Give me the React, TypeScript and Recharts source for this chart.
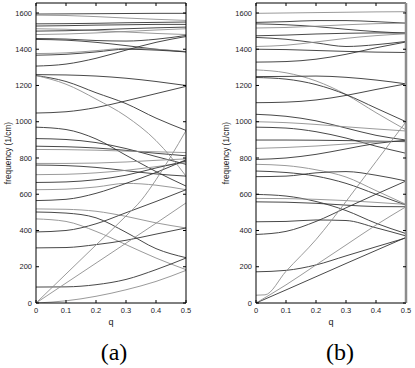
import React from 'react';
import { LineChart, Line, XAxis, YAxis } from 'recharts';

// ---------- shared axis values ----------
const Q_GRID = [0, 0.1, 0.2, 0.3, 0.4, 0.5];
const X_TICKS = [0, 0.1, 0.2, 0.3, 0.4, 0.5];
const Y_TICKS = [0, 200, 400, 600, 800, 1000, 1200, 1400, 1600];
const Y_MAX = 1655;
const Y_LABEL = 'frequency (1/cm)';
const X_LABEL = 'q';
const PANEL_LABELS = ['(a)', '(b)'];

// ---------- panel (a): bands sampled on Q_GRID ----------
const bandsA: number[][] = [
  [1594, 1595, 1596, 1597, 1598, 1598],
  [1588, 1586, 1580, 1572, 1565, 1559],
  [1540, 1541, 1543, 1546, 1548, 1550],
  [1528, 1530, 1533, 1535, 1537, 1537],
  [1513, 1510, 1503, 1495, 1487, 1481],
  [1500, 1502, 1507, 1513, 1518, 1522],
  [1481, 1484, 1490, 1498, 1506, 1513],
  [1459, 1456, 1448, 1445, 1455, 1476],
  [1454, 1450, 1438, 1420, 1400, 1386],
  [1376, 1380, 1392, 1405, 1400, 1387],
  [1367, 1372, 1385, 1400, 1395, 1385],
  [1307, 1318, 1350, 1395, 1438, 1470],
  [1260, 1258, 1252, 1240, 1222, 1200],
  [1048, 1055, 1078, 1115, 1155, 1195],
  [1255, 1222, 1160, 1100, 1020, 952],
  [970, 957, 905, 815, 725, 645],
  [907, 902, 885, 852, 808, 765],
  [865, 862, 855, 842, 826, 812],
  [847, 846, 843, 838, 834, 830],
  [770, 770, 772, 778, 787, 795],
  [761, 758, 748, 730, 712, 700],
  [708, 710, 718, 732, 752, 774],
  [665, 668, 680, 705, 745, 783],
  [625, 628, 640, 660, 650, 625],
  [565, 572, 605, 660, 720, 790],
  [519, 517, 506, 478, 442, 414],
  [502, 496, 470, 390, 300, 250],
  [464, 450, 395, 322, 248, 184],
  [392, 400, 437, 498, 560, 625],
  [304, 306, 322, 346, 380, 414],
  [88, 89, 101, 130, 184, 248],
  [0, 12, 37, 73, 119, 180],
  [0, 110, 220, 330, 440, 552],
];
const shadeA = [0, 1, 0, 0, 1, 0, 1, 0, 0, 1, 0, 0, 0, 0, 0, 0, 0, 0, 1, 1, 0, 1, 0, 1, 0, 1, 0, 1, 0, 0, 0, 1, 1];

// panel (a): bands with their own q samples
const steepA_q = [0, 0.1, 0.2, 0.3, 0.35, 0.4, 0.45, 0.5];
const steepA_f = [0, 160, 320, 480, 565, 680, 810, 951];
const lightA_q = [0, 0.1, 0.2, 0.3, 0.4, 0.45, 0.5];
const lightA_f = [1255, 1207, 1125, 1030, 896, 805, 700];

// ---------- panel (b): bands sampled on Q_GRID ----------
const bandsB: number[][] = [
  [1598, 1600, 1602, 1604, 1606, 1607],
  [1548, 1552, 1558, 1558, 1552, 1544],
  [1540, 1535, 1525, 1510, 1497, 1489],
  [1517, 1520, 1527, 1535, 1541, 1544],
  [1474, 1478, 1484, 1488, 1490, 1489],
  [1465, 1455, 1435, 1415, 1425, 1443],
  [1415, 1422, 1440, 1460, 1475, 1485],
  [1400, 1398, 1393, 1388, 1384, 1382],
  [1329, 1332, 1345, 1372, 1408, 1440],
  [1286, 1270, 1225, 1150, 1050, 955],
  [1249, 1250, 1252, 1245, 1230, 1209],
  [1244, 1235, 1205, 1150, 1075, 1000],
  [1105, 1108, 1120, 1145, 1178, 1209],
  [1041, 1030, 1005, 965, 925, 899],
  [1000, 995, 985, 972, 960, 949],
  [970, 965, 945, 910, 865, 826],
  [899, 899, 898, 896, 893, 890],
  [853, 858, 866, 877, 888, 895],
  [792, 800, 820, 850, 880, 897],
  [765, 758, 735, 695, 620, 544],
  [728, 720, 700, 660, 600, 540],
  [697, 700, 718, 725, 705, 673],
  [599, 590, 560, 510, 440, 383],
  [577, 576, 572, 565, 555, 544],
  [558, 556, 550, 540, 532, 531],
  [448, 450, 458, 455, 415, 370],
  [378, 395, 450, 525, 600, 673],
  [172, 180, 210, 260, 310, 359],
  [0, 72, 145, 218, 290, 362],
  [0, 100, 210, 320, 430, 531],
];
const shadeB = [1, 0, 0, 1, 0, 0, 1, 0, 0, 1, 0, 0, 0, 0, 1, 0, 0, 1, 0, 1, 0, 0, 0, 1, 0, 0, 0, 0, 0, 1];

const steepB_q = [0, 0.03, 0.1, 0.2, 0.3, 0.35, 0.4, 0.5];
const steepB_f = [43, 45, 175, 350, 560, 670, 780, 1000];

// ---------- helpers ----------
type Pt = { q: number; f: number };
const toPts = (qs: number[], fs: number[]): Pt[] => qs.map((q, i) => ({ q, f: fs[i] }));

const DARK = '#333333';
const LIGHT = '#8f8f8f';
const FONT = '"Liberation Sans", Arial, sans-serif';

type Series = { pts: Pt[]; dark: boolean };

const seriesA: Series[] = [
  ...bandsA.map((b, i) => ({ pts: toPts(Q_GRID, b), dark: shadeA[i] === 0 })),
  { pts: toPts(steepA_q, steepA_f), dark: false },
  { pts: toPts(lightA_q, lightA_f), dark: false },
];
const seriesB: Series[] = [
  ...bandsB.map((b, i) => ({ pts: toPts(Q_GRID, b), dark: shadeB[i] === 0 })),
  { pts: toPts(steepB_q, steepB_f), dark: false },
];

const fmtX = (v: number) => (v === 0 ? '0' : v.toFixed(1));
const empty = () => '';

function Panel({ series, rightStroke, rightWidth }: { series: Series[]; rightStroke: string; rightWidth: number }) {
  const tickStyle = { fontSize: 7.5, fill: '#222', fontFamily: FONT };
  return (
    <LineChart width={200} height={368} margin={{ top: 0, right: 11, bottom: 45, left: 0 }}>
      <XAxis
        xAxisId="b"
        type="number"
        dataKey="q"
        domain={[0, 0.5]}
        ticks={X_TICKS}
        interval={0}
        tickFormatter={fmtX}
        height={20}
        tickSize={-3}
        tickMargin={8}
        axisLine={{ stroke: '#000', strokeWidth: 1 }}
        tickLine={{ stroke: '#000' }}
        tick={tickStyle}
        allowDataOverflow
      />
      <XAxis
        xAxisId="t"
        orientation="top"
        type="number"
        dataKey="q"
        domain={[0, 0.5]}
        ticks={X_TICKS}
        interval={0}
        tickFormatter={empty}
        height={3}
        tickSize={-3}
        axisLine={{ stroke: '#000', strokeWidth: 1 }}
        tickLine={{ stroke: '#000' }}
        allowDataOverflow
      />
      <YAxis
        yAxisId="l"
        type="number"
        domain={[0, Y_MAX]}
        ticks={Y_TICKS}
        interval={0}
        width={36}
        tickSize={-3}
        tickMargin={7}
        axisLine={{ stroke: '#000', strokeWidth: 1 }}
        tickLine={{ stroke: '#000' }}
        tick={tickStyle}
        allowDataOverflow
      />
      <YAxis
        yAxisId="r"
        orientation="right"
        type="number"
        domain={[0, Y_MAX]}
        ticks={Y_TICKS}
        interval={0}
        width={3}
        tickSize={-3}
        tickFormatter={empty}
        axisLine={{ stroke: rightStroke, strokeWidth: rightWidth }}
        tickLine={{ stroke: '#000' }}
        allowDataOverflow
      />
      {series.map((s, i) => (
        <Line
          key={i}
          data={s.pts}
          dataKey="f"
          xAxisId="b"
          yAxisId="l"
          type="monotone"
          stroke={s.dark ? DARK : LIGHT}
          strokeWidth={0.9}
          dot={false}
          activeDot={false}
          isAnimationActive={false}
        />
      ))}
    </LineChart>
  );
}

export default function App() {
  return (
    <div style={{ position: 'absolute', left: 0, top: 0, width: 415, height: 368, background: '#fff', overflow: 'hidden' }}>
      <div style={{ position: 'absolute', left: 0, top: 0 }}>
        <Panel series={seriesA} rightStroke="#000" rightWidth={1} />
      </div>
      <div style={{ position: 'absolute', left: 220, top: 0 }}>
        <Panel series={seriesB} rightStroke="#8c8c8c" rightWidth={2.5} />
      </div>
      <svg width={415} height={368} style={{ position: 'absolute', left: 0, top: 0, pointerEvents: 'none' }}>
        <text x={7.5} y={153} transform="rotate(-90 7.5 153)" textAnchor="middle" dominantBaseline="central" fontFamily={FONT} fontSize={8.3} fill="#222">
          {Y_LABEL}
        </text>
        <text x={226} y={153} transform="rotate(-90 226 153)" textAnchor="middle" dominantBaseline="central" fontFamily={FONT} fontSize={8.3} fill="#222">
          {Y_LABEL}
        </text>
        <text x={111} y={325} textAnchor="middle" fontFamily={FONT} fontSize={9} fill="#222">{X_LABEL}</text>
        <text x={331} y={325} textAnchor="middle" fontFamily={FONT} fontSize={9} fill="#222">{X_LABEL}</text>
        <text x={114} y={360} textAnchor="middle" fontFamily='"Liberation Serif", "Times New Roman", serif' fontSize={24} fill="#000">{PANEL_LABELS[0]}</text>
        <text x={340} y={360} textAnchor="middle" fontFamily='"Liberation Serif", "Times New Roman", serif' fontSize={24} fill="#000">{PANEL_LABELS[1]}</text>
      </svg>
    </div>
  );
}
